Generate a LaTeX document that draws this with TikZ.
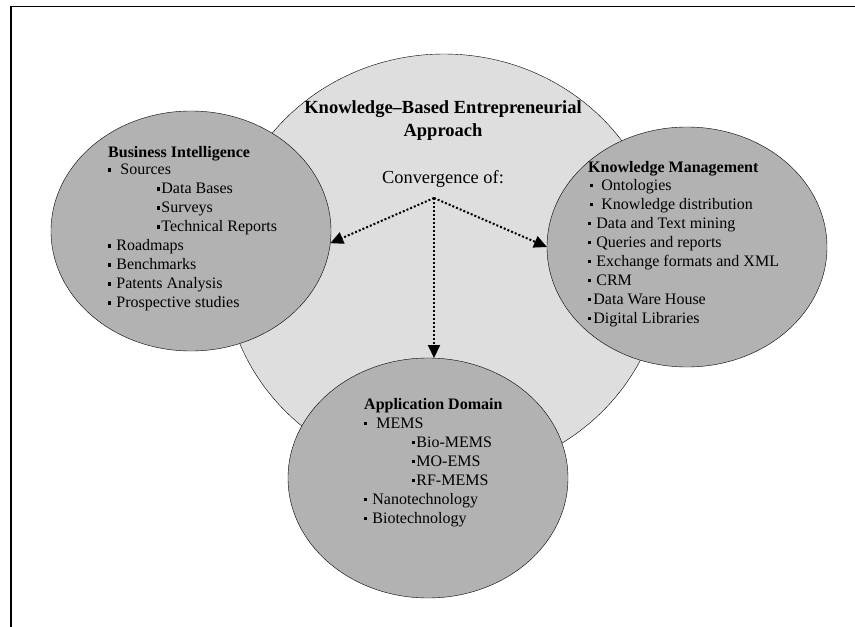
\documentclass[tikz,border=0pt]{standalone}
\usepackage{fontspec}
\setmainfont{Liberation Serif}
\usetikzlibrary{shapes.geometric,arrows.meta}
\definecolor{kbefill}{gray}{0.87}
\definecolor{areafill}{gray}{0.70}
\tikzset{
  kbecircle/.style={draw,ellipse,fill=kbefill,inner sep=0pt,outer sep=0pt,minimum width=440pt,minimum height=422pt},
  areacircle/.style={draw,ellipse,fill=areafill,inner sep=0pt,outer sep=0pt,minimum width=280pt,minimum height=240pt},
  items/.style={align=left,anchor=north west,inner sep=0pt,font=\fontsize{16pt}{19pt}\selectfont},
  convarrow/.style={-{Triangle[length=13pt,width=12pt]},line width=2pt,dash pattern=on 2pt off 2pt}
}
\newcommand{\bul}{\rule[0.2em]{0.2em}{0.2em}}

\begin{document}
\begin{tikzpicture}[x=1pt,y=-1pt]
  \useasboundingbox (0,0) rectangle (855,627);
  \draw[line width=1.5pt] (11,627) -- (11,6.5) -- (855,6.5);
  \node[kbecircle] (kbe) at (444,265) {};
  \node[areacircle] (bi) at (191,231) {};
  \node[areacircle] (km) at (687,247) {};
  \node[areacircle] (ad) at (428,478) {};
  \node[font=\bfseries\fontsize{18.5pt}{23pt}\selectfont,align=center,anchor=north,inner sep=0pt] (kbetitle) at (443,100.8) {Knowledge–Based Entrepreneurial\\Approach};
  \node[font=\fontsize{18.4pt}{22pt}\selectfont,anchor=base,inner sep=0pt] (convtext) at (443,183) {Convergence of:};
  \coordinate (hub) at (434,198);
  \draw[convarrow] (hub) -- (bi.-5);
  \draw[convarrow] (hub) -- (km.west);
  \draw[convarrow] (hub) -- (hub |- ad.north);
  \node[items] (bitext) at (108,146) {\textbf{Business Intelligence}\\[-1.5pt]
    \bul\hspace*{9pt}Sources\\
    \hspace*{49pt}\bul\hspace*{1pt}Data Bases\\
    \hspace*{49pt}\bul\hspace*{1pt}Surveys\\
    \hspace*{49pt}\bul\hspace*{1pt}Technical Reports\\
    \bul\hspace*{5pt}Roadmaps\\
    \bul\hspace*{5pt}Benchmarks\\
    \bul\hspace*{5pt}Patents Analysis\\
    \bul\hspace*{5pt}Prospective studies};
  \node[items] (kmtext) at (588,161) {\textbf{Knowledge Management}\\[-1pt]
    \hspace*{2pt}\bul\hspace*{8pt}Ontologies\\
    \hspace*{2pt}\bul\hspace*{8pt}Knowledge distribution\\
    \bul\hspace*{5pt}Data and Text mining\\
    \bul\hspace*{5pt}Queries and reports\\
    \bul\hspace*{5pt}Exchange formats and XML\\
    \bul\hspace*{5pt}CRM\\
    \bul\hspace*{2pt}Data Ware House\\
    \bul\hspace*{2pt}Digital Libraries};
  \node[items] (adtext) at (364,398.2) {\textbf{Application Domain}\\
    \bul\hspace*{9pt}MEMS\\
    \hspace*{48pt}\bul\hspace*{1pt}Bio-MEMS\\
    \hspace*{48pt}\bul\hspace*{1pt}MO-EMS\\
    \hspace*{48pt}\bul\hspace*{1pt}RF-MEMS\\
    \bul\hspace*{5pt}Nanotechnology\\
    \bul\hspace*{5pt}Biotechnology};
\end{tikzpicture}
\end{document}
